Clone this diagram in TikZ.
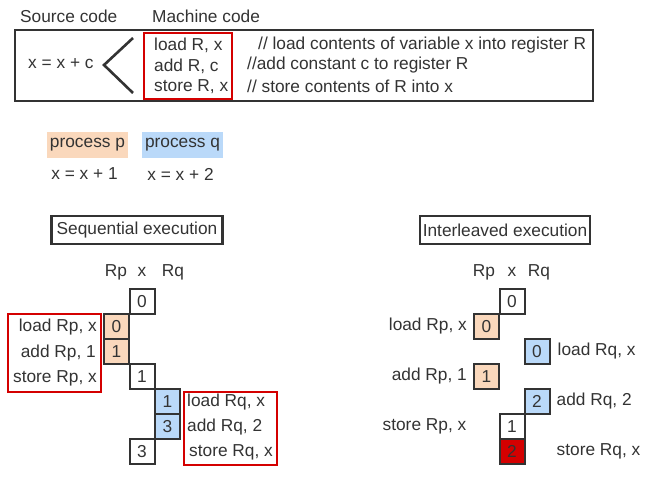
\documentclass[tikz,border=0pt]{standalone}
\usepackage{fontspec}
\setmainfont{Liberation Sans}
\usetikzlibrary{calc}
\usetikzlibrary{positioning}

\definecolor{ink}{HTML}{333333}
\definecolor{peach}{HTML}{FAD8BC}
\definecolor{skyblue}{HTML}{BAD9F9}
\definecolor{hotred}{HTML}{D40000}

\tikzset{
 lbl/.style={inner sep=0, text=ink, font=\fontsize{17.3}{21}\selectfont},
 cell/.style={lbl, draw=ink, line width=2, minimum size=25},
 frame/.style={draw=ink, line width=2.2},
 redframe/.style={draw=hotred, line width=2},
}

\begin{document}
\begin{tikzpicture}[x=1pt,y=-1pt]
\useasboundingbox (0,0) rectangle (660,489);
% top: source and machine code
\node[lbl, anchor=west] (src) at (20,16) {Source code};
\node[lbl, anchor=west] (mach) at (152,16) {Machine code};
\draw[frame, line width=2.6] (15,30) rectangle (593,101);
\node[lbl, anchor=west] (expr) at (28,64) {x = x + c};
\draw[ink, line width=2.6] (133,38) -- (104,65) -- (133,93);
\node[lbl, anchor=west] (m1) at (154,45) {load R, x};
\node[lbl, anchor=west] (m2) at (154,66) {add R, c};
\node[lbl, anchor=west] (m3) at (154,87) {store R, x};
\draw[redframe] (144,33) rectangle (232,99);
\node[lbl, anchor=west] (c1) at (258,45) {// load contents of variable x into register R};
\node[lbl, anchor=west] (c2) at (247,65) {//add constant c to register R};
\node[lbl, anchor=west] (c3) at (247,86) {// store contents of R into x};

% the two processes
\node[lbl, fill=peach, minimum width=81, minimum height=26] (pp) at (87.5,145) {process p};
\node[lbl, fill=skyblue, minimum width=81, minimum height=26] (pq) at (182.5,145) {process q};
\node[lbl] (ep) at (84.5,174) {x = x + 1};
\node[lbl] (eq) at (180.5,174) {x = x + 2};

% titles
\node[lbl, frame, minimum width=171, minimum height=28] (seq) at (137,230) {Sequential execution};
\node[lbl, frame, minimum width=170, minimum height=28] (ilv) at (505,230) {Interleaved execution};

% column heads
\foreach \n/\cx in {Rp/116, x/142, Rq/173} {
 \node[lbl] (hs\n) at (\cx,272) {\n};
}
\foreach \n/\cx in {Rp/484, x/512, Rq/539} {
 \node[lbl] (hi\n) at (\cx,272) {\n};
}

% sequential cells
\foreach \n/\cx/\r/\v/\c in {1/142/0/0/white, 2/116.5/1/0/peach, 3/116.5/2/1/peach,
 4/142/3/1/white, 5/167.5/4/1/skyblue, 6/167.5/5/3/skyblue, 7/142/6/3/white} {
 \node[cell, fill=\c] (s\n) at (\cx,{301.5+25*\r}) {\v};
}
\node[lbl, anchor=east] (sp1) at (97,327) {load Rp, x};
\node[lbl, anchor=east] (sp2) at (96,353) {add Rp, 1};
\node[lbl, anchor=east] (sp3) at (97,378) {store Rp, x};
\draw[redframe] (8,314) rectangle (101,392);
\node[lbl, anchor=west] (sq1) at (187,402) {load Rq, x};
\node[lbl, anchor=west] (sq2) at (187,427) {add Rq, 2};
\node[lbl, anchor=west] (sq3) at (189,452) {store Rq, x};
\draw[redframe] (184,392) rectangle (277,465);

% interleaved cells
\foreach \n/\cx/\r/\v/\c in {1/512/0/0/white, 2/486.5/1/0/peach, 3/537/2/0/skyblue,
 4/486.5/3/1/peach, 5/537/4/2/skyblue, 6/512/5/1/white, 7/512/6/2/hotred} {
 \node[cell, fill=\c] (i\n) at (\cx,{301.5+25*\r}) {\v};
}
\node[lbl, left=6 of i2] (ip1) {load Rp, x};
\node[lbl, right=7 of i3] (iq1) {load Rq, x};
\node[lbl, left=6 of i4] (ip2) {add Rp, 1};
\node[lbl, right=6 of i5] (iq2) {add Rq, 2};
\node[lbl, left=32 of i6] (ip3) {store Rp, x};
\node[lbl, right=31 of i7] (iq3) {store Rq, x};
\end{tikzpicture}
\end{document}
